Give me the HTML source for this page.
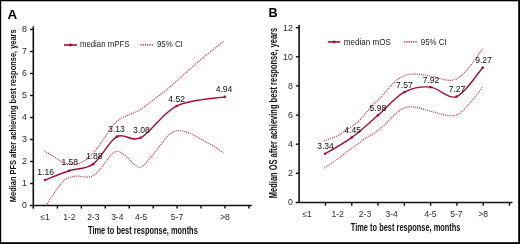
<!DOCTYPE html>
<html><head><meta charset="utf-8"><style>
html,body{margin:0;padding:0;background:#fff;}
body{width:520px;height:244px;overflow:hidden;}
svg{display:block;will-change:transform;font-family:"Liberation Sans", sans-serif;}
</style></head><body>
<svg width="520" height="244" viewBox="0 0 520 244">
<rect x="0" y="0" width="520" height="244" fill="#000"/>
<rect x="1.2" y="1.3" width="517.0" height="240.9" fill="#fff"/>
<text x="7.60" y="19.00" font-size="12.80" text-anchor="start" font-weight="bold" fill="#000" textLength="9.7" lengthAdjust="spacingAndGlyphs">A</text>
<text x="268.60" y="16.80" font-size="12.60" text-anchor="start" font-weight="bold" fill="#000">B</text>
<line x1="33.30" y1="26.3" x2="33.30" y2="208.6" stroke="#111" stroke-width="1.6"/>
<line x1="29.8" y1="205.60" x2="251.8" y2="205.60" stroke="#111" stroke-width="1.5"/>
<text x="26.90" y="208.10" font-size="8.80" text-anchor="end" font-weight="normal" fill="#2a2a2a">0</text>
<line x1="30.0" y1="183.50" x2="33.30" y2="183.50" stroke="#111" stroke-width="1.4"/>
<text x="26.90" y="186.10" font-size="8.80" text-anchor="end" font-weight="normal" fill="#2a2a2a">1</text>
<line x1="30.0" y1="161.50" x2="33.30" y2="161.50" stroke="#111" stroke-width="1.4"/>
<text x="26.90" y="164.10" font-size="8.80" text-anchor="end" font-weight="normal" fill="#2a2a2a">2</text>
<line x1="30.0" y1="139.50" x2="33.30" y2="139.50" stroke="#111" stroke-width="1.4"/>
<text x="26.90" y="142.10" font-size="8.80" text-anchor="end" font-weight="normal" fill="#2a2a2a">3</text>
<line x1="30.0" y1="117.50" x2="33.30" y2="117.50" stroke="#111" stroke-width="1.4"/>
<text x="26.90" y="120.10" font-size="8.80" text-anchor="end" font-weight="normal" fill="#2a2a2a">4</text>
<line x1="30.0" y1="95.50" x2="33.30" y2="95.50" stroke="#111" stroke-width="1.4"/>
<text x="26.90" y="98.10" font-size="8.80" text-anchor="end" font-weight="normal" fill="#2a2a2a">5</text>
<line x1="30.0" y1="73.50" x2="33.30" y2="73.50" stroke="#111" stroke-width="1.4"/>
<text x="26.90" y="76.10" font-size="8.80" text-anchor="end" font-weight="normal" fill="#2a2a2a">6</text>
<line x1="30.0" y1="51.50" x2="33.30" y2="51.50" stroke="#111" stroke-width="1.4"/>
<text x="26.90" y="54.10" font-size="8.80" text-anchor="end" font-weight="normal" fill="#2a2a2a">7</text>
<line x1="30.0" y1="29.50" x2="33.30" y2="29.50" stroke="#111" stroke-width="1.4"/>
<text x="26.90" y="32.10" font-size="8.80" text-anchor="end" font-weight="normal" fill="#2a2a2a">8</text>
<line x1="57.43" y1="205.60" x2="57.43" y2="208.6" stroke="#111" stroke-width="1.4"/>
<line x1="81.36" y1="205.60" x2="81.36" y2="208.6" stroke="#111" stroke-width="1.4"/>
<line x1="105.29" y1="205.60" x2="105.29" y2="208.6" stroke="#111" stroke-width="1.4"/>
<line x1="129.22" y1="205.60" x2="129.22" y2="208.6" stroke="#111" stroke-width="1.4"/>
<line x1="153.15" y1="205.60" x2="153.15" y2="208.6" stroke="#111" stroke-width="1.4"/>
<line x1="177.08" y1="205.60" x2="177.08" y2="208.6" stroke="#111" stroke-width="1.4"/>
<line x1="201.01" y1="205.60" x2="201.01" y2="208.6" stroke="#111" stroke-width="1.4"/>
<line x1="224.94" y1="205.60" x2="224.94" y2="208.6" stroke="#111" stroke-width="1.4"/>
<line x1="248.87" y1="205.60" x2="248.87" y2="208.6" stroke="#111" stroke-width="1.4"/>
<text x="45.10" y="219.90" font-size="8.50" text-anchor="middle" font-weight="normal" fill="#2a2a2a">≤1</text>
<text x="69.30" y="219.90" font-size="8.50" text-anchor="middle" font-weight="normal" fill="#2a2a2a">1-2</text>
<text x="93.30" y="219.90" font-size="8.50" text-anchor="middle" font-weight="normal" fill="#2a2a2a">2-3</text>
<text x="117.30" y="219.90" font-size="8.50" text-anchor="middle" font-weight="normal" fill="#2a2a2a">3-4</text>
<text x="141.20" y="219.90" font-size="8.50" text-anchor="middle" font-weight="normal" fill="#2a2a2a">4-5</text>
<text x="177.00" y="219.90" font-size="8.50" text-anchor="middle" font-weight="normal" fill="#2a2a2a">5-7</text>
<text x="225.00" y="219.90" font-size="8.50" text-anchor="middle" font-weight="normal" fill="#2a2a2a">>8</text>
<line x1="299.10" y1="25.0" x2="299.10" y2="202.50" stroke="#111" stroke-width="1.6"/>
<line x1="295.7" y1="202.50" x2="512.5" y2="202.50" stroke="#111" stroke-width="1.5"/>
<text x="292.80" y="205.30" font-size="8.80" text-anchor="end" font-weight="normal" fill="#2a2a2a">0</text>
<line x1="295.8" y1="173.28" x2="299.10" y2="173.28" stroke="#111" stroke-width="1.4"/>
<text x="292.80" y="176.18" font-size="8.80" text-anchor="end" font-weight="normal" fill="#2a2a2a">2</text>
<line x1="295.8" y1="144.16" x2="299.10" y2="144.16" stroke="#111" stroke-width="1.4"/>
<text x="292.80" y="147.06" font-size="8.80" text-anchor="end" font-weight="normal" fill="#2a2a2a">4</text>
<line x1="295.8" y1="115.04" x2="299.10" y2="115.04" stroke="#111" stroke-width="1.4"/>
<text x="292.80" y="117.94" font-size="8.80" text-anchor="end" font-weight="normal" fill="#2a2a2a">6</text>
<line x1="295.8" y1="85.92" x2="299.10" y2="85.92" stroke="#111" stroke-width="1.4"/>
<text x="292.80" y="88.82" font-size="8.80" text-anchor="end" font-weight="normal" fill="#2a2a2a">8</text>
<line x1="295.8" y1="56.80" x2="299.10" y2="56.80" stroke="#111" stroke-width="1.4"/>
<text x="292.80" y="59.70" font-size="8.80" text-anchor="end" font-weight="normal" fill="#2a2a2a">10</text>
<line x1="295.8" y1="27.68" x2="299.10" y2="27.68" stroke="#111" stroke-width="1.4"/>
<text x="292.80" y="30.58" font-size="8.80" text-anchor="end" font-weight="normal" fill="#2a2a2a">12</text>
<line x1="325.49" y1="202.50" x2="325.49" y2="205.8" stroke="#111" stroke-width="1.4"/>
<line x1="351.78" y1="202.50" x2="351.78" y2="205.8" stroke="#111" stroke-width="1.4"/>
<line x1="378.07" y1="202.50" x2="378.07" y2="205.8" stroke="#111" stroke-width="1.4"/>
<line x1="404.36" y1="202.50" x2="404.36" y2="205.8" stroke="#111" stroke-width="1.4"/>
<line x1="430.65" y1="202.50" x2="430.65" y2="205.8" stroke="#111" stroke-width="1.4"/>
<line x1="456.94" y1="202.50" x2="456.94" y2="205.8" stroke="#111" stroke-width="1.4"/>
<line x1="483.23" y1="202.50" x2="483.23" y2="205.8" stroke="#111" stroke-width="1.4"/>
<line x1="509.52" y1="202.50" x2="509.52" y2="205.8" stroke="#111" stroke-width="1.4"/>
<text x="307.10" y="216.50" font-size="8.50" text-anchor="middle" font-weight="normal" fill="#2a2a2a">≤1</text>
<text x="337.70" y="216.50" font-size="8.50" text-anchor="middle" font-weight="normal" fill="#2a2a2a">1-2</text>
<text x="365.00" y="216.50" font-size="8.50" text-anchor="middle" font-weight="normal" fill="#2a2a2a">2-3</text>
<text x="391.60" y="216.50" font-size="8.50" text-anchor="middle" font-weight="normal" fill="#2a2a2a">3-4</text>
<text x="430.40" y="216.50" font-size="8.50" text-anchor="middle" font-weight="normal" fill="#2a2a2a">4-5</text>
<text x="456.40" y="216.50" font-size="8.50" text-anchor="middle" font-weight="normal" fill="#2a2a2a">5-7</text>
<text x="483.10" y="216.50" font-size="8.50" text-anchor="middle" font-weight="normal" fill="#2a2a2a">>8</text>
<text x="88.00" y="233.50" font-size="10.30" text-anchor="start" font-weight="bold" fill="#111" textLength="109.8" lengthAdjust="spacingAndGlyphs">Time to best response, months</text>
<text x="350.80" y="230.70" font-size="10.30" text-anchor="start" font-weight="bold" fill="#111" textLength="109.7" lengthAdjust="spacingAndGlyphs">Time to best response, months</text>
<text transform="translate(16.4 202.2) rotate(-90)" x="0" y="0" font-size="9.4" font-weight="bold" fill="#111" textLength="172.8" lengthAdjust="spacingAndGlyphs">Median PFS after achieving best response, years</text>
<text transform="translate(276.8 198.2) rotate(-90)" x="0" y="0" font-size="10.3" font-weight="bold" fill="#111" textLength="170.4" lengthAdjust="spacingAndGlyphs">Median OS after achieving best response, years</text>
<line x1="64.00" y1="45.00" x2="77.00" y2="45.00" stroke="#c0143c" stroke-width="1.7"/>
<circle cx="70.50" cy="45.00" r="1.45" fill="#a80b33"/>
<text x="79.90" y="47.20" font-size="8.60" text-anchor="start" font-weight="normal" fill="#222" textLength="49.50" lengthAdjust="spacingAndGlyphs">median mPFS</text>
<line x1="140.50" y1="44.90" x2="154.00" y2="44.90" stroke="#c02a55" stroke-width="1.6" stroke-dasharray="1.05 1.2"/>
<text x="156.90" y="47.20" font-size="8.60" text-anchor="start" font-weight="normal" fill="#222" textLength="25.90" lengthAdjust="spacingAndGlyphs">95% CI</text>
<line x1="328.00" y1="41.90" x2="340.30" y2="41.90" stroke="#c0143c" stroke-width="1.7"/>
<circle cx="334.15" cy="41.90" r="1.45" fill="#a80b33"/>
<text x="343.80" y="44.80" font-size="8.60" text-anchor="start" font-weight="normal" fill="#222" textLength="47.00" lengthAdjust="spacingAndGlyphs">median mOS</text>
<line x1="404.20" y1="41.90" x2="417.70" y2="41.90" stroke="#c02a55" stroke-width="1.6" stroke-dasharray="1.05 1.2"/>
<text x="420.80" y="44.80" font-size="8.60" text-anchor="start" font-weight="normal" fill="#222" textLength="25.80" lengthAdjust="spacingAndGlyphs">95% CI</text>
<path d="M44.40 150.80 C45.83 151.70 50.05 154.37 53.00 156.20 C55.95 158.03 59.43 160.55 62.10 161.80 C64.77 163.05 66.68 163.30 69.00 163.70 C71.32 164.10 73.83 164.47 76.00 164.20 C78.17 163.93 80.13 163.02 82.00 162.10 C83.87 161.18 85.37 160.23 87.20 158.70 C89.03 157.17 91.40 154.55 93.00 152.90 C94.60 151.25 95.40 150.55 96.80 148.80 C98.20 147.05 99.78 144.70 101.40 142.40 C103.02 140.10 104.87 137.35 106.50 135.00 C108.13 132.65 109.70 130.30 111.20 128.30 C112.70 126.30 113.85 124.65 115.50 123.00 C117.15 121.35 118.50 119.92 121.10 118.40 C123.70 116.88 127.95 115.33 131.10 113.90 C134.25 112.47 137.15 111.47 140.00 109.80 C142.85 108.13 145.47 105.97 148.20 103.90 C150.93 101.83 153.28 99.77 156.40 97.40 C159.52 95.03 163.10 92.83 166.90 89.70 C170.70 86.57 175.52 81.88 179.20 78.60 C182.88 75.32 185.58 73.02 189.00 70.00 C192.42 66.98 195.95 63.67 199.70 60.50 C203.45 57.33 207.52 54.20 211.50 51.00 C215.48 47.80 221.58 42.92 223.60 41.30" fill="none" stroke="#c0204a" stroke-width="1.15" stroke-linecap="butt" stroke-dasharray="1 1.1"/>
<path d="M46.00 205.40 C46.83 204.17 49.27 200.60 51.00 198.00 C52.73 195.40 54.82 192.08 56.40 189.80 C57.98 187.52 59.13 185.95 60.50 184.30 C61.87 182.65 63.25 180.98 64.60 179.90 C65.95 178.82 67.23 178.35 68.60 177.80 C69.97 177.25 71.32 176.90 72.80 176.60 C74.28 176.30 75.60 175.95 77.50 176.00 C79.40 176.05 82.12 176.77 84.20 176.90 C86.28 177.03 88.22 177.22 90.00 176.80 C91.78 176.38 93.27 175.62 94.90 174.40 C96.53 173.18 98.15 171.40 99.80 169.50 C101.45 167.60 103.15 165.18 104.80 163.00 C106.45 160.82 108.15 158.20 109.70 156.40 C111.25 154.60 112.73 153.05 114.10 152.20 C115.47 151.35 116.45 151.02 117.90 151.30 C119.35 151.58 121.02 152.65 122.80 153.90 C124.58 155.15 126.82 157.17 128.60 158.80 C130.38 160.43 131.85 162.27 133.50 163.70 C135.15 165.13 137.12 166.88 138.50 167.40 C139.88 167.92 140.63 167.43 141.80 166.80 C142.97 166.17 144.17 164.97 145.50 163.60 C146.83 162.23 148.25 160.42 149.80 158.60 C151.35 156.78 152.87 155.18 154.80 152.70 C156.73 150.22 159.20 146.55 161.40 143.70 C163.60 140.85 165.95 137.62 168.00 135.60 C170.05 133.58 171.67 132.42 173.70 131.60 C175.73 130.78 177.80 130.53 180.20 130.70 C182.60 130.87 185.42 131.65 188.10 132.60 C190.78 133.55 193.57 135.00 196.30 136.40 C199.03 137.80 201.38 139.23 204.50 141.00 C207.62 142.77 211.83 145.07 215.00 147.00 C218.17 148.93 222.08 151.67 223.50 152.60" fill="none" stroke="#c0204a" stroke-width="1.15" stroke-linecap="butt" stroke-dasharray="1 1.1"/>
<path d="M324.10 140.90 C326.15 140.13 332.98 137.88 336.40 136.30 C339.82 134.72 341.87 133.17 344.60 131.40 C347.33 129.63 350.23 127.62 352.80 125.70 C355.37 123.78 357.22 122.72 360.00 119.90 C362.78 117.08 366.17 112.43 369.50 108.80 C372.83 105.17 376.88 101.43 380.00 98.10 C383.12 94.77 385.47 91.72 388.20 88.80 C390.93 85.88 393.67 82.82 396.40 80.60 C399.13 78.38 401.87 76.58 404.60 75.50 C407.33 74.42 410.07 74.27 412.80 74.10 C415.53 73.93 418.47 74.27 421.00 74.50 C423.53 74.73 425.63 75.02 428.00 75.50 C430.37 75.98 432.28 76.67 435.20 77.40 C438.12 78.13 442.87 79.42 445.50 79.90 C448.13 80.38 449.30 80.42 451.00 80.30 C452.70 80.18 454.20 79.80 455.70 79.20 C457.20 78.60 458.63 77.73 460.00 76.70 C461.37 75.67 462.22 74.77 463.90 73.00 C465.58 71.23 468.08 68.57 470.10 66.10 C472.12 63.63 473.95 61.07 476.00 58.20 C478.05 55.33 481.33 50.45 482.40 48.90" fill="none" stroke="#c0204a" stroke-width="1.15" stroke-linecap="butt" stroke-dasharray="1 1.1"/>
<path d="M324.20 168.20 C326.08 166.93 332.45 162.75 335.50 160.60 C338.55 158.45 340.22 157.07 342.50 155.30 C344.78 153.53 347.12 151.55 349.20 150.00 C351.28 148.45 353.12 147.33 355.00 146.00 C356.88 144.67 358.83 143.25 360.50 142.00 C362.17 140.75 362.62 140.03 365.00 138.50 C367.38 136.97 371.52 135.12 374.80 132.80 C378.08 130.48 381.68 127.33 384.70 124.60 C387.72 121.87 390.45 118.72 392.90 116.40 C395.35 114.08 397.38 112.17 399.40 110.70 C401.42 109.23 403.12 108.25 405.00 107.60 C406.88 106.95 408.87 106.85 410.70 106.80 C412.53 106.75 414.28 107.03 416.00 107.30 C417.72 107.57 419.50 107.98 421.00 108.40 C422.50 108.82 423.50 109.38 425.00 109.80 C426.50 110.22 428.30 110.47 430.00 110.90 C431.70 111.33 433.53 111.92 435.20 112.40 C436.87 112.88 438.28 113.35 440.00 113.80 C441.72 114.25 443.57 114.77 445.50 115.10 C447.43 115.43 449.55 115.90 451.60 115.80 C453.65 115.70 456.07 115.22 457.80 114.50 C459.53 113.78 460.63 112.70 462.00 111.50 C463.37 110.30 464.58 108.83 466.00 107.30 C467.42 105.77 469.00 104.02 470.50 102.30 C472.00 100.58 473.02 99.48 475.00 97.00 C476.98 94.52 481.17 89.00 482.40 87.40" fill="none" stroke="#c0204a" stroke-width="1.15" stroke-linecap="butt" stroke-dasharray="1 1.1"/>
<path d="M45.10 179.98 C49.10 178.44 61.13 173.38 69.10 170.74 C77.07 168.10 84.93 169.82 92.90 164.14 C100.87 158.46 108.93 141.04 116.90 136.64 C124.87 132.24 130.77 142.84 140.70 137.74 C150.63 132.64 162.48 112.88 176.50 106.06 C190.52 99.24 216.75 98.36 224.80 96.82" fill="none" stroke="#a30d35" stroke-width="1.40" stroke-linecap="butt"/>
<path d="M325.10 153.77 C329.52 151.08 342.80 144.01 351.60 137.61 C360.40 131.20 369.12 122.90 377.90 115.33 C386.68 107.76 395.55 96.89 404.30 92.18 C413.05 87.47 421.68 86.36 430.40 87.08 C439.12 87.81 447.87 99.82 456.60 96.55 C465.33 93.27 478.43 72.28 482.80 67.43" fill="none" stroke="#a30d35" stroke-width="1.40" stroke-linecap="butt"/>
<circle cx="45.10" cy="179.98" r="1.3" fill="#a30d35"/>
<circle cx="69.10" cy="170.74" r="1.3" fill="#a30d35"/>
<circle cx="92.90" cy="164.14" r="1.3" fill="#a30d35"/>
<circle cx="116.90" cy="136.64" r="1.3" fill="#a30d35"/>
<circle cx="140.70" cy="137.74" r="1.3" fill="#a30d35"/>
<circle cx="176.50" cy="106.06" r="1.3" fill="#a30d35"/>
<circle cx="224.80" cy="96.82" r="1.3" fill="#a30d35"/>
<circle cx="325.10" cy="153.77" r="1.3" fill="#a30d35"/>
<circle cx="351.60" cy="137.61" r="1.3" fill="#a30d35"/>
<circle cx="377.90" cy="115.33" r="1.3" fill="#a30d35"/>
<circle cx="404.30" cy="92.18" r="1.3" fill="#a30d35"/>
<circle cx="430.40" cy="87.08" r="1.3" fill="#a30d35"/>
<circle cx="456.60" cy="96.55" r="1.3" fill="#a30d35"/>
<circle cx="482.80" cy="67.43" r="1.3" fill="#a30d35"/>
<text x="45.70" y="174.60" font-size="8.60" text-anchor="middle" font-weight="normal" fill="#111">1.16</text>
<text x="69.75" y="165.00" font-size="8.60" text-anchor="middle" font-weight="normal" fill="#111">1.58</text>
<text x="94.30" y="159.40" font-size="8.60" text-anchor="middle" font-weight="normal" fill="#111">1.88</text>
<text x="116.40" y="131.60" font-size="8.60" text-anchor="middle" font-weight="normal" fill="#111">3.13</text>
<text x="141.40" y="132.60" font-size="8.60" text-anchor="middle" font-weight="normal" fill="#111">3.08</text>
<text x="176.60" y="101.50" font-size="8.60" text-anchor="middle" font-weight="normal" fill="#111">4.52</text>
<text x="224.00" y="91.80" font-size="8.60" text-anchor="middle" font-weight="normal" fill="#111">4.94</text>
<text x="325.50" y="148.70" font-size="8.60" text-anchor="middle" font-weight="normal" fill="#111">3.34</text>
<text x="352.60" y="132.80" font-size="8.60" text-anchor="middle" font-weight="normal" fill="#111">4.45</text>
<text x="377.90" y="111.30" font-size="8.60" text-anchor="middle" font-weight="normal" fill="#111">5.98</text>
<text x="404.40" y="87.80" font-size="8.60" text-anchor="middle" font-weight="normal" fill="#111">7.57</text>
<text x="431.00" y="82.50" font-size="8.60" text-anchor="middle" font-weight="normal" fill="#111">7.92</text>
<text x="457.00" y="91.80" font-size="8.60" text-anchor="middle" font-weight="normal" fill="#111">7.27</text>
<text x="483.50" y="62.80" font-size="8.60" text-anchor="middle" font-weight="normal" fill="#111">9.27</text>
</svg>
</body></html>
